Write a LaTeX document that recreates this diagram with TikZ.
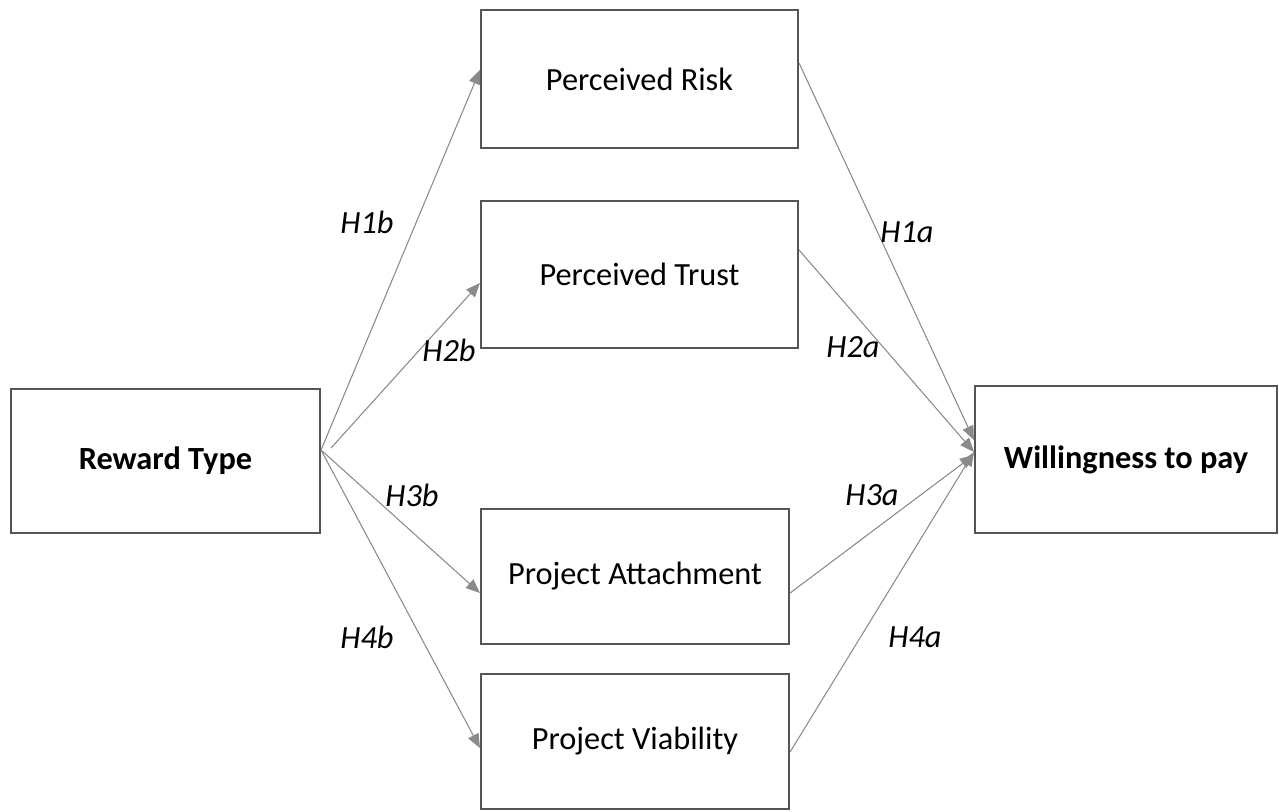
\documentclass[tikz,border=0pt]{standalone}
\usepackage{fontspec}
\setmainfont{Carlito}
\usetikzlibrary{arrows.meta}
\definecolor{boxgray}{HTML}{555555}
\definecolor{linegray}{HTML}{8A8A8A}

\begin{document}
\begin{tikzpicture}[
        block/.style={draw=boxgray,line width=1.2pt,fill=white,inner sep=0pt,
            font=\fontsize{18.4}{22}\selectfont},
        link/.style={draw=linegray,line width=0.6pt,
            -{Triangle[length=8pt,width=6.5pt]}},
        hyp/.style={font=\fontsize{18.4}{22}\selectfont\itshape}]
    \useasboundingbox (0,0) rectangle (25.58,-16.22);
    %% boxes
    \node[block,minimum width=6.18cm,minimum height=2.88cm] (reward) at (3.31,-9.22) {\textbf{Reward Type}};
    \node[block,minimum width=6.34cm,minimum height=2.76cm] (risk) at (12.79,-1.58) {Perceived Risk};
    \node[block,minimum width=6.34cm,minimum height=2.94cm] (trust) at (12.79,-5.49) {Perceived Trust};
    \node[block,minimum width=6.16cm,minimum height=2.70cm] (attach) at (12.70,-11.53) {Project Attachment};
    \node[block,minimum width=6.16cm,minimum height=2.70cm] (viab) at (12.70,-14.83) {Project Viability};
    \node[block,minimum width=6.04cm,minimum height=2.94cm] (wtp) at (22.52,-9.19) {\textbf{Willingness to pay}};
    %% common start on the reward box
    \coordinate (rt) at ([yshift=0.22cm]reward.east);
    \coordinate (rt2) at ([xshift=0.2cm,yshift=0.26cm]reward.east);
    %% b paths
    \draw[link] (rt) -- ([yshift=0.18cm]risk.west);
    \draw[link] (rt2) -- ([yshift=-0.17cm]trust.west);
    \draw[link] (rt) -- ([yshift=-0.33cm]attach.west);
    \draw[link] (rt) -- ([yshift=-0.13cm]viab.west);
    %% a paths
    \draw[link] ([yshift=0.32cm]risk.east) -- ([yshift=0.39cm]wtp.west);
    \draw[link] ([yshift=0.49cm]trust.east) -- ([yshift=0.15cm]wtp.west);
    \draw[link] ([yshift=-0.33cm]attach.east) -- ([yshift=0.09cm]wtp.west);
    \draw[link] ([yshift=-0.21cm]viab.east) -- ([yshift=0.15cm]wtp.west);
    %% labels
    \node[hyp] (h1b) at (7.34,-4.44) {H1b};
    \node[hyp] (h2b) at (8.98,-7.00) {H2b};
    \node[hyp] (h3b) at (8.24,-9.90) {H3b};
    \node[hyp] (h4b) at (7.34,-12.74) {H4b};
    \node[hyp] (h1a) at (18.14,-4.64) {H1a};
    \node[hyp] (h2a) at (17.06,-6.94) {H2a};
    \node[hyp] (h3a) at (17.44,-9.90) {H3a};
    \node[hyp] (h4a) at (18.30,-12.74) {H4a};
\end{tikzpicture}
\end{document}
